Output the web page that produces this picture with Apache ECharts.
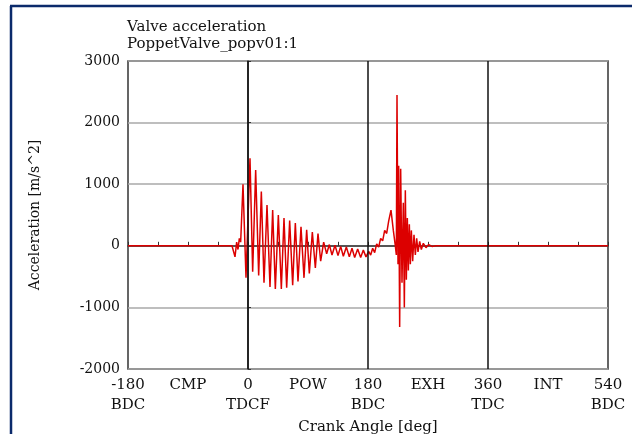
<!DOCTYPE html>
<html>
<head>
<meta charset="utf-8">
<script src="https://cdn.jsdelivr.net/npm/echarts@6/dist/echarts.min.js"></script>
<style>
  html, body { margin: 0; padding: 0; background: #ffffff; }
  #chart { width: 632px; height: 434px; }
</style>
</head>
<body>
<div id="chart"></div>
<script>
// Crank angle positions [deg] of the valve acceleration trace
const crankAngle = [
  -180, -24, -21, -19.5, -17, -15, -13, -11, -7.5, -3,
  3, 7, 11.5, 16, 20, 24, 28.5, 33, 37, 41,
  45.5, 50, 54, 58, 62.5, 67, 71, 75, 79.5, 84,
  88, 92, 96.5, 101, 105, 109, 113.5, 118, 122, 126,
  130.5, 135, 139, 143, 147.5, 152, 156, 160, 164.5, 169,
  173, 177, 181, 184, 187, 190, 193, 196, 199, 202,
  205, 208, 211, 214.5, 218, 221, 222.5, 223.5, 225, 226,
  227.5, 229, 231, 233, 234.5, 236, 237.5, 239, 240.5, 242,
  243.5, 245, 247, 249, 251, 253, 255, 257.5, 260, 263,
  267, 271, 276, 282, 540
];

// Valve acceleration [m/s^2] at each crank angle
const acceleration = [
  0, 0, 20, -180, 60, -60, 120, 60, 1000, -520,
  1420, -420, 1230, -480, 880, -600, 660, -670, 580, -700,
  500, -700, 450, -680, 410, -640, 370, -580, 310, -520,
  260, -450, 225, -360, 200, -250, 60, -130, 20, -150,
  10, -160, -10, -170, -20, -180, -40, -190, -50, -190,
  -70, -180, -90, -150, -40, -110, 30, -20, 120, 80,
  250, 200, 400, 580, 250, 0, -150, 2450, -300, 1300,
  -1320, 1250, -600, 700, -1000, 900, -550, 450, -400, 350,
  -300, 250, -250, 180, -150, 120, -100, 70, -60, 40,
  -30, 20, -10, 0, 0
];

// Crank-angle ticks with their stroke / dead-centre names
const angleTicks = [-180, -90, 0, 90, 180, 270, 360, 450, 540];
const angleTickLabels = ['-180\nBDC', 'CMP', '0\nTDCF', 'POW', '180\nBDC', 'EXH', '360\nTDC', 'INT', '540\nBDC'];

// Dead-centre reference lines
const deadCentres = [0, 180, 360];

const serif = 'DejaVu Serif';
const chart = echarts.init(document.getElementById('chart'), null, { renderer: 'canvas' });

chart.setOption({
  animation: false,
  backgroundColor: '#ffffff',
  title: {
    text: 'Valve acceleration\nPoppetValve_popv01:1',
    left: 127,
    top: 18,
    padding: 0,
    textStyle: { fontFamily: serif, fontSize: 15, fontWeight: 'normal', color: '#111', lineHeight: 17.5 }
  },
  graphic: [
    { type: 'line', shape: { x1: 11, y1: 6, x2: 11, y2: 434 }, style: { stroke: '#0b2a6b', lineWidth: 2.5 } },
    { type: 'line', shape: { x1: 10, y1: 6, x2: 632, y2: 6 }, style: { stroke: '#0b2a6b', lineWidth: 2.5 } }
  ],
  grid: {
    left: 128, right: 24, top: 61, bottom: 65,
    outerBoundsMode: 'none',
    containLabel: false,
    show: true, borderColor: '#333', borderWidth: 1.5, backgroundColor: '#ffffff'
  },
  xAxis: {
    type: 'value',
    min: -180, max: 540, interval: 45,
    name: 'Crank Angle [deg]',
    nameLocation: 'middle',
    nameGap: 48,
    nameTextStyle: { fontFamily: serif, fontSize: 15, color: '#111' },
    axisLine: { show: true, lineStyle: { color: '#333', width: 1.5 } },
    axisTick: { show: true, inside: true, length: 4, lineStyle: { color: '#333' } },
    splitLine: { show: false },
    axisLabel: {
      fontFamily: serif, fontSize: 15, color: '#111', lineHeight: 20, margin: 6,
      formatter: function (v) {
        const i = angleTicks.indexOf(v);
        return i >= 0 ? angleTickLabels[i] : '';
      }
    }
  },
  yAxis: {
    type: 'value',
    min: -2000, max: 3000, interval: 1000,
    name: 'Acceleration [m/s^2]',
    nameLocation: 'middle',
    nameGap: 86,
    nameTextStyle: { fontFamily: serif, fontSize: 14, color: '#111' },
    axisLine: { show: true, lineStyle: { color: '#333', width: 1.5 } },
    axisTick: { show: true, inside: true, length: 3, lineStyle: { color: '#333' } },
    splitLine: { show: true, lineStyle: { color: '#a8a8a8', width: 1.5 } },
    axisLabel: {
      fontFamily: serif, fontSize: 14, color: '#111', margin: 8,
      formatter: v => String(v)
    }
  },
  series: [{
    type: 'line',
    data: crankAngle.map((a, i) => [a, acceleration[i]]),
    showSymbol: false,
    symbol: 'none',
    lineStyle: { color: '#dc0000', width: 1.5 },
    z: 3,
    markLine: {
      silent: true,
      symbol: ['none', 'none'],
      label: { show: false },
      lineStyle: { color: '#111', width: 1.5, type: 'solid' },
      data: deadCentres.map(a => ({ xAxis: a }))
    }
  }]
});
</script>
</body>
</html>
